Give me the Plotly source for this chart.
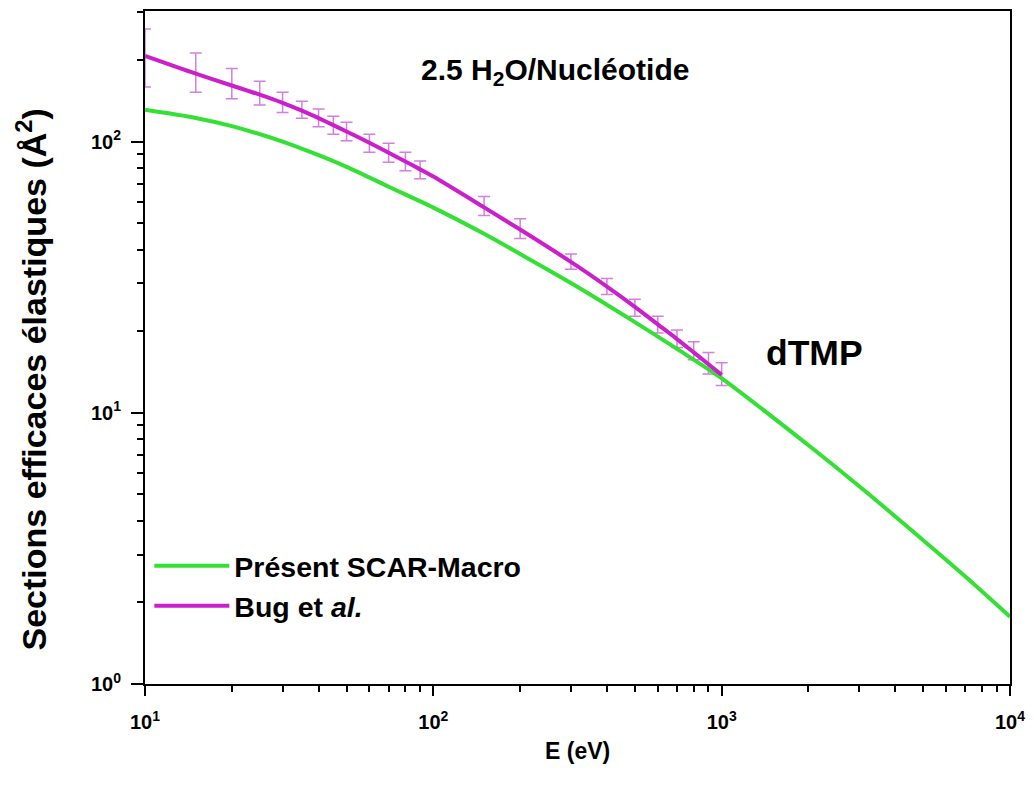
import plotly.graph_objects as go

# --- Data ---
scar_e = [10, 15, 20, 30, 40, 50, 70, 100, 150, 200, 300, 500, 700, 1000, 2000, 3000, 5000, 7000, 10000]
scar_sigma = [131, 122.2, 114, 100, 89.1, 80.7, 68.2, 57.1, 45.7, 38.5, 30.1, 21.6, 17.2, 13.4, 7.59, 5.36, 3.39, 2.49, 1.77]

bug_line_e = [10, 15, 20, 25, 30, 35, 40, 45, 50, 60, 70, 80, 90, 100, 150, 200, 300, 400, 500, 600, 700, 800, 900, 1000]
bug_line_sigma = [207, 178, 161, 149, 139, 130, 122, 115, 109, 99, 91, 84.5, 79, 74.3, 57.2, 47.4, 36.0, 29.2, 24.6, 21.2, 18.7, 16.7, 15.1, 13.8]

bug_pts_e = [10, 15, 20, 25, 30, 35, 40, 45, 50, 60, 70, 80, 90, 150, 200, 300, 400, 500, 600, 700, 800, 900, 1000]
bug_pts_sigma = [207, 178, 161, 149, 139, 130, 122, 115, 109, 99, 91, 84.5, 79, 57.2, 47.4, 36.0, 29.2, 24.6, 21.2, 18.7, 16.7, 15.1, 13.8]
bug_err_plus = [53, 34, 25, 18, 13, 11, 10, 9, 8.8, 7.4, 7.6, 6.9, 5.9, 5.6, 4.6, 2.5, 2.1, 1.6, 1.5, 1.5, 1.6, 1.6, 1.5]
bug_err_minus = [48, 26, 17, 12.6, 11, 8, 8.5, 8.6, 8.2, 7.6, 7, 6.5, 6.1, 3.8, 3.5, 2.2, 1.9, 1.9, 1.5, 1.3, 1.0, 1.2, 1.2]

x_tickvals = [10, 100, 1000, 10000]
x_ticktext = ["10<sup>1</sup>", "10<sup>2</sup>", "10<sup>3</sup>", "10<sup>4</sup>"]
y_tickvals = [1, 10, 100]
y_ticktext = ["10<sup>0</sup>", "10<sup>1</sup>", "10<sup>2</sup>"]
minor_vals = [m * 10 ** k for k in range(-1, 5) for m in range(2, 10)]

GREEN = "#33e033"
MAGENTA = "#cc1fcc"
ERRC = "#d27fe0"
FONT = "Liberation Sans"

fig = go.Figure()

fig.add_trace(go.Scatter(
    x=bug_pts_e, y=bug_pts_sigma, mode="markers",
    marker=dict(size=1, color="rgba(0,0,0,0)"),
    error_y=dict(type="data", symmetric=False, array=bug_err_plus, arrayminus=bug_err_minus,
                 color=ERRC, thickness=1.5, width=6),
    showlegend=False, hoverinfo="skip", cliponaxis=False,
))
fig.add_trace(go.Scatter(
    x=scar_e, y=scar_sigma, mode="lines", name="Présent SCAR-Macro",
    line=dict(color=GREEN, width=4, shape="spline", smoothing=0.8),
))
fig.add_trace(go.Scatter(
    x=bug_line_e, y=bug_line_sigma, mode="lines", name="Bug et <i>al.</i>",
    line=dict(color=MAGENTA, width=4, shape="spline", smoothing=0.8),
))

axis_common = dict(
    type="log", showgrid=False, zeroline=False,
    showline=True, linecolor="black", linewidth=2, mirror=True,
    ticks="outside", tickcolor="black", tickwidth=2,
    tickfont=dict(family=FONT, size=20, color="black", weight="bold"),
)

fig.update_layout(
    width=1034, height=800, autosize=False,
    margin=dict(l=145, r=21, t=9, b=116),
    paper_bgcolor="white", plot_bgcolor="white",
    xaxis=dict(axis_common, range=[1, 4], tickvals=x_tickvals, ticktext=x_ticktext, ticklen=10,
               ticklabelstandoff=9,
               minor=dict(tickvals=minor_vals, ticks="outside", ticklen=6, tickwidth=1.5, tickcolor="black")),
    yaxis=dict(axis_common, range=[0, 2.4816], tickvals=y_tickvals, ticktext=y_ticktext, ticklen=12,
               ticklabelstandoff=6,
               minor=dict(tickvals=minor_vals, ticks="outside", ticklen=6, tickwidth=1.5, tickcolor="black")),
    legend=dict(x=0.005, y=0.213, xanchor="left", yanchor="top",
                bgcolor="rgba(0,0,0,0)", borderwidth=0,
                font=dict(family=FONT, size=28.5, color="black", weight="bold"),
                tracegroupgap=0, itemwidth=75),
    showlegend=True,
)

fig.add_annotation(text="Sections efficaces élastiques (Å<sup>2</sup>)", xref="paper", yref="paper",
                   x=-0.131, y=0.452, xanchor="center", yanchor="middle", textangle=-90, showarrow=False,
                   font=dict(family=FONT, size=34, color="black", weight="bold"))
fig.add_annotation(text="E (eV)", xref="paper", yref="paper", x=0.5, y=-0.1,
                   xanchor="center", yanchor="middle", showarrow=False,
                   font=dict(family=FONT, size=23, color="black", weight="bold"))
fig.add_annotation(text="2.5 H<sub>2</sub>O/Nucléotide", xref="paper", yref="paper",
                   x=0.4735, y=0.9096, xanchor="center", yanchor="middle", showarrow=False,
                   font=dict(family=FONT, size=30, color="black", weight="bold"))
fig.add_annotation(text="dTMP", xref="paper", yref="paper", x=0.774, y=0.492,
                   xanchor="center", yanchor="middle", showarrow=False,
                   font=dict(family=FONT, size=35.5, color="black", weight="bold"))

fig.write_html("out.html", config={"displayModeBar": False},
               post_script="document.body.style.margin='0px';")
